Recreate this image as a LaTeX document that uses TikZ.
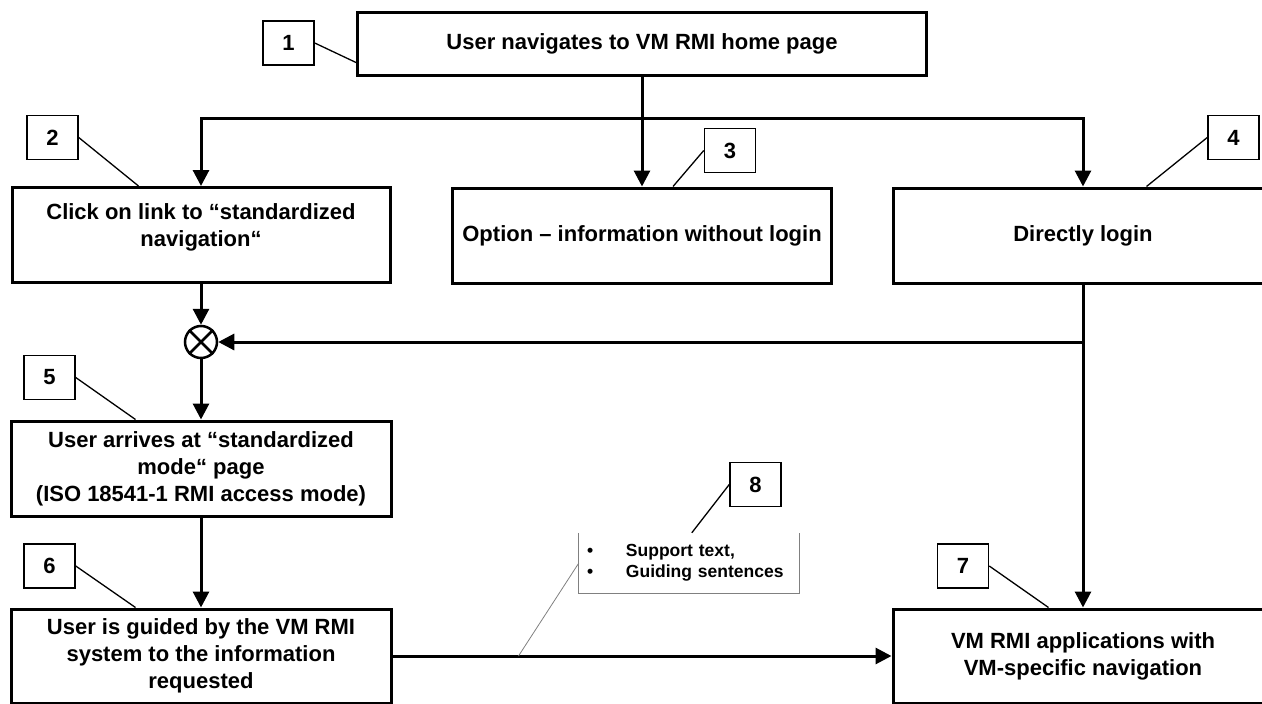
\documentclass[tikz,border=0pt]{standalone}
\usepackage{fontspec}
\setmainfont{Liberation Sans}
\usetikzlibrary{arrows.meta}

\begin{document}
\begin{tikzpicture}[x=1pt,y=-1pt,
    stage/.style={rectangle,draw,line width=3pt,align=center,inner sep=0pt,
        minimum width=380pt,minimum height=95pt,font=\fontsize{22}{27}\selectfont\bfseries},
    tag/.style={rectangle,draw,line width=1.5pt,inner sep=0pt,
        minimum width=51pt,minimum height=44pt,font=\fontsize{22}{27}\selectfont\bfseries},
    flow/.style={line width=3pt,-{Triangle[length=16pt,width=16pt]}},
    leader/.style={line width=1.3pt}]
\useasboundingbox (0,0) rectangle (1262,704);

\node [stage,minimum width=569pt,minimum height=63pt] (home) at (642,43.5) {User navigates to VM RMI home page};
\node [stage,minimum width=378pt,text depth=19pt] (std-link) at (201,235) {Click on link to “standardized\\navigation“};
\node [stage,minimum width=379pt] (info) at (642,235.5) {Option – information without login};
\node [stage] (login) at (1083,235.5) {Directly login};
\node [circle,draw,line width=2.5pt,minimum size=32pt,inner sep=0pt] (join) at (201,342) {};
\node [stage] (std-mode) at (201,468.5) {User arrives at “standardized\\mode“ page\\(ISO 18541-1 RMI access mode)};
\node [stage,minimum height=94pt] (guided) at (201,656) {User is guided by the VM RMI\\system to the information\\requested};
\node [stage,minimum height=94pt] (apps) at (1083,656) {VM RMI applications with\\VM-specific navigation};
\node [minimum width=220pt,minimum height=60pt,inner sep=0pt,align=left,text width=204pt,
    font=\fontsize{17.5}{21}\selectfont\bfseries] (support) at (689,563)
    {\makebox[39pt][l]{\textbullet}Support text,\\\makebox[39pt][l]{\textbullet}Guiding sentences};

\node [tag] (n1) at (288.5,43) {1};
\node [tag] (n2) at (52.5,137.5) {2};
\node [tag] (n3) at (730,150.5) {3};
\node [tag] (n4) at (1233.5,137.5) {4};
\node [tag] (n5) at (49.5,377.5) {5};
\node [tag] (n6) at (49.5,566) {6};
\node [tag] (n7) at (963,566) {7};
\node [tag] (n8) at (755.5,484.5) {8};

\draw [line width=2.5pt] (join.45) -- (join.225) (join.135) -- (join.315);
\draw [gray,line width=0.8pt] (support.north west) -- (support.south west) -- (support.south east) -- (support.north east);

\coordinate (split) at (home.south |- 0,118);
\coordinate (tap) at (login.south |- join);
\draw [flow] (home) -- (info);
\draw [flow] (split) -| (std-link.north);
\draw [flow] (split) -| (login.north);
\draw [flow] (std-link) -- (join);
\draw [flow] (login) -- (apps);
\draw [flow] (tap) -- (join);
\draw [flow] (join) -- (std-mode);
\draw [flow] (std-mode) -- (guided);
\draw [flow] (guided) -- (apps);

\draw [leader] (n1.east) -- ([yshift=14pt]home.south west);
\draw [leader] (n2.east) -- ([xshift=128pt]std-link.north west);
\draw [leader] (n3.west) -- ([xshift=222pt]info.north west);
\draw [leader] (n4.west) -- ([xshift=255pt]login.north west);
\draw [leader] (n5.east) -- ([xshift=126pt]std-mode.north west);
\draw [leader] (n6.east) -- ([xshift=126pt]guided.north west);
\draw [leader] (n7.east) -- ([xshift=157pt]apps.north west);
\draw [leader] (n8.west) -- ([xshift=113pt]support.north west);
\draw [gray,line width=0.8pt] (support.west) -- ([xshift=126pt]guided.east);
\end{tikzpicture}
\end{document}
